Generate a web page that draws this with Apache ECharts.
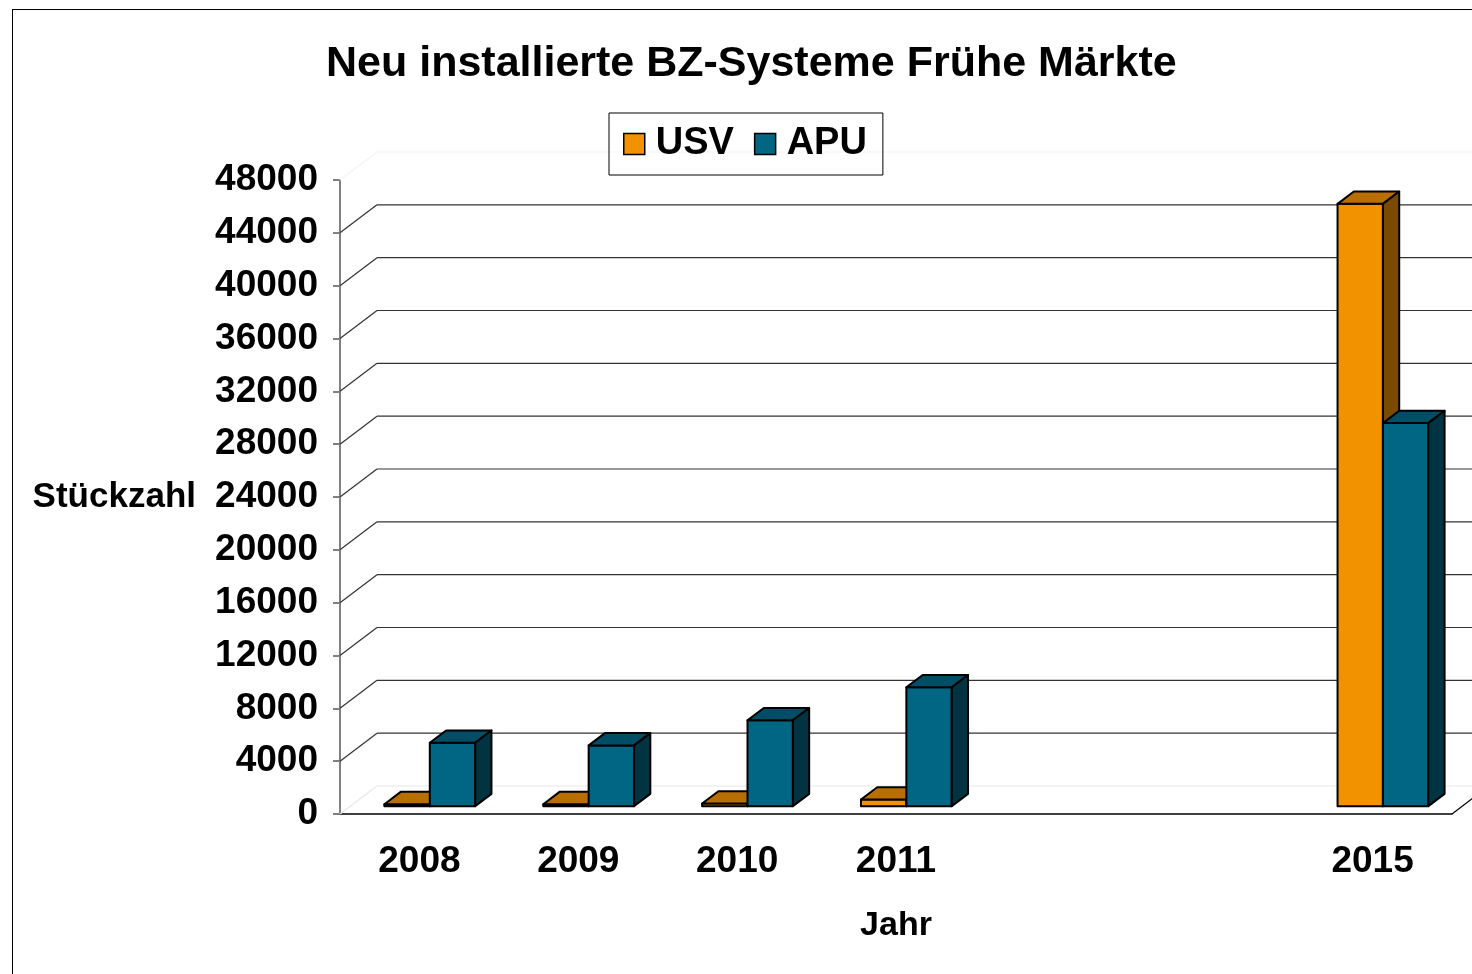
<!DOCTYPE html>
<html>
<head>
<meta charset="utf-8">
<script src="https://cdn.jsdelivr.net/npm/echarts@6/dist/echarts.min.js"></script>
<style>
  html, body { margin: 0; padding: 0; background: #fff; }
  #chart { width: 1472px; height: 974px; }
  #frame {
    position: absolute; left: 12px; top: 9px; right: -10px; bottom: -10px;
    border-left: 1.5px solid #000; border-top: 1.5px solid #000; pointer-events: none;
  }
</style>
</head>
<body>
<div id="chart"></div>
<div id="frame"></div>
<script>
// Jahre (zwei leere Plätze zwischen 2011 und 2015)
var years = ['2008', '2009', '2010', '2011', ' ', '  ', '2015'];
var usv = [150, 150, 200, 500, null, null, 45600];
var apu = [4800, 4600, 6500, 9000, null, null, 29000];
var yTicks = [0, 4000, 8000, 12000, 16000, 20000, 24000, 28000, 32000, 36000, 40000, 44000, 48000];

var FONT = "'Liberation Sans', Arial, sans-serif";
// pseudo 3D: back wall offset, bar front/back depth
var DX = 37, DY = -28, ZF = 0.28, ZB = 0.72;
var usvCol = { front: '#F39200', top: '#B86E00', side: '#7A4A00' };
var apuCol = { front: '#006683', top: '#004E66', side: '#003442' };

var chart = echarts.init(document.getElementById('chart'));

function toData(arr) {
  var out = [];
  arr.forEach(function (v, i) { if (v != null) out.push([i, v]); });
  return out;
}

function barItem(s, col) {
  return function (params, api) {
    var cat = api.value(0), val = api.value(1);
    var base = api.coord([cat, 0]);
    var top = api.coord([cat, val]);
    var band = api.size([1, 0])[0];
    var w = band / 3.5;
    var x0 = base[0] - w + s * w + ZF * DX;
    var x1 = x0 + w;
    var yb = base[1] + ZF * DY;
    var yt = top[1] + ZF * DY;
    var dx = (ZB - ZF) * DX, dy = (ZB - ZF) * DY;
    var st = { stroke: '#000', lineWidth: 2, lineJoin: 'round' };
    return {
      type: 'group',
      children: [
        { type: 'rect', shape: { x: x0, y: yt, width: w, height: yb - yt },
          style: Object.assign({ fill: col.front }, st) },
        { type: 'polygon', shape: { points: [[x0, yt], [x1, yt], [x1 + dx, yt + dy], [x0 + dx, yt + dy]] },
          style: Object.assign({ fill: col.top }, st) },
        { type: 'polygon', shape: { points: [[x1, yt], [x1 + dx, yt + dy], [x1 + dx, yb + dy], [x1, yb]] },
          style: Object.assign({ fill: col.side }, st) }
      ]
    };
  };
}

function wallItem(params, api) {
  var cs = params.coordSys;
  var v = api.value(0);
  var y = api.coord([0, v])[1];
  var xl = cs.x, xr = cs.x + cs.width;
  var c = '#333';
  if (v === yTicks[0]) c = '#e8e8e8';
  if (v === yTicks[yTicks.length - 1]) c = '#f4f4f4';
  var kids = [
    { type: 'line', shape: { x1: xl, y1: y, x2: xl + DX, y2: y + DY }, style: { stroke: c, lineWidth: 1.2 } },
    { type: 'line', shape: { x1: xl + DX, y1: y + DY, x2: xr + DX, y2: y + DY }, style: { stroke: c, lineWidth: 1.2 } }
  ];
  if (v === 0) {
    kids.push({ type: 'line', shape: { x1: xr, y1: y, x2: xr + DX, y2: y + DY }, style: { stroke: '#000', lineWidth: 1.2 } });
  }
  return { type: 'group', children: kids };
}

var option = {
  backgroundColor: '#fff',
  animation: false,
  textStyle: { fontFamily: FONT },
  title: {
    text: 'Neu installierte BZ-Systeme Frühe Märkte',
    left: 321, top: 38,
    textStyle: { fontFamily: FONT, fontWeight: 'bold', fontSize: 43, color: '#000' }
  },
  legend: {
    data: ['USV', 'APU'],
    left: 609, top: 113,
    padding: [12, 16, 12, 14],
    borderColor: '#000', borderWidth: 1,
    itemWidth: 21, itemHeight: 21, itemGap: 20,
    icon: 'rect',
    itemStyle: { borderColor: '#000', borderWidth: 1.5 },
    textStyle: { fontFamily: FONT, fontWeight: 'bold', fontSize: 38, color: '#000', padding: [0, 0, 0, 6] }
  },
  grid: { left: 340, top: 180, width: 1112, height: 634 },
  xAxis: {
    type: 'category',
    data: years,
    name: 'Jahr',
    nameLocation: 'middle',
    nameGap: 95,
    nameTextStyle: { fontFamily: FONT, fontWeight: 'bold', fontSize: 34, color: '#000' },
    axisLine: { lineStyle: { color: '#000', width: 1.5 } },
    axisTick: { length: 12, lineStyle: { color: '#808080', width: 2 } },
    axisLabel: { margin: 29, fontFamily: FONT, fontWeight: 'bold', fontSize: 37, color: '#000' },
    splitLine: { show: false }
  },
  yAxis: {
    type: 'value',
    min: 0, max: 48000, interval: 4000,
    name: 'Stückzahl',
    nameLocation: 'middle',
    nameRotate: 0,
    nameGap: 144,
    nameTextStyle: { fontFamily: FONT, fontWeight: 'bold', fontSize: 35, color: '#000' },
    axisLine: { show: true, lineStyle: { color: '#808080', width: 2 } },
    axisTick: { show: true, length: 7, lineStyle: { color: '#808080', width: 2 } },
    axisLabel: {
      margin: 22, fontFamily: FONT, fontWeight: 'bold', fontSize: 37, color: '#000',
      formatter: function (v) { return String(v); }
    },
    splitLine: { show: false }
  },
  series: [
    {
      name: 'walls', type: 'custom', z: 1, clip: false, silent: true,
      renderItem: wallItem,
      encode: { y: 0 },
      data: yTicks.map(function (v) { return [v]; })
    },
    {
      name: 'USV', type: 'custom', z: 2, clip: false,
      itemStyle: { color: usvCol.front },
      renderItem: barItem(0, usvCol),
      encode: { x: 0, y: 1 },
      data: toData(usv)
    },
    {
      name: 'APU', type: 'custom', z: 3, clip: false,
      itemStyle: { color: apuCol.front },
      renderItem: barItem(1, apuCol),
      encode: { x: 0, y: 1 },
      data: toData(apu)
    }
  ]
};
chart.setOption(option);
</script>
</body>
</html>
